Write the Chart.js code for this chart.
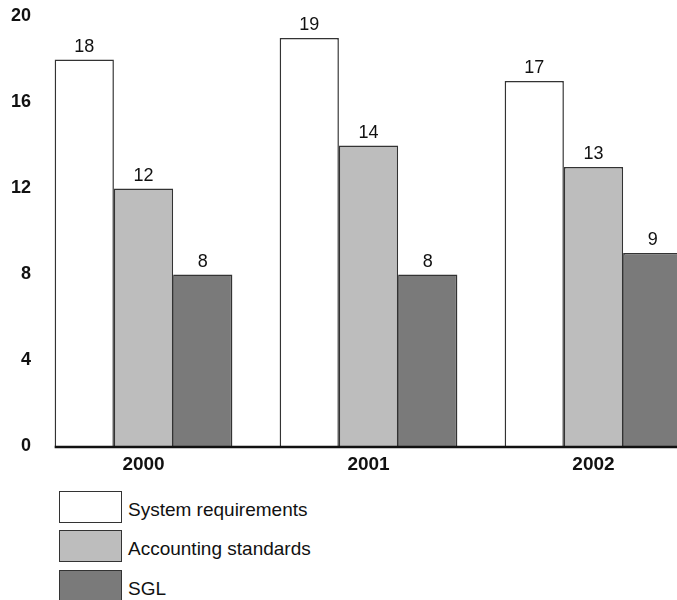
<!DOCTYPE html>
<html>
<head>
<meta charset="utf-8">
<script src="https://cdn.jsdelivr.net/npm/chart.js@4.4.1/dist/chart.umd.min.js"></script>
<style>
  html, body { margin: 0; padding: 0; background: #fff; overflow: hidden; }
  body { width: 677px; height: 600px; position: relative; font-family: "Liberation Sans", Arial, Helvetica, sans-serif; }
  #wrap { position: absolute; left: 0; top: 0; width: 706px; height: 480px; }
  #legend { position: absolute; left: 59px; top: 490px; }
  .legend-row { display: flex; align-items: center; height: 33px; margin-bottom: 6.5px; }
  .legend-box { width: 61px; height: 30px; border: 1.5px solid #333; box-sizing: content-box; }
  .legend-text { margin-left: 6px; font-size: 19px; color: #111; position: relative; top: 3px; }
</style>
</head>
<body>
<div id="wrap"><canvas id="chart" width="706" height="480"></canvas></div>
<div id="legend"></div>
<script>
const years = ['2000', '2001', '2002'];
const seriesNames = ['System requirements', 'Accounting standards', 'SGL'];
const systemRequirements = [18, 19, 17];
const accountingStandards = [12, 14, 13];
const sgl = [8, 8, 9];
const yTicks = [0, 4, 8, 12, 16, 20];

const fills = ['#ffffff', '#bdbdbd', '#7a7a7a'];
const font = '"Liberation Sans", Arial, Helvetica, sans-serif';

// value labels above each bar
const valueLabels = {
  id: 'valueLabels',
  afterDatasetsDraw(chart) {
    const ctx = chart.ctx;
    ctx.save();
    ctx.font = `18px ${font}`;
    ctx.fillStyle = '#111';
    ctx.textAlign = 'center';
    ctx.textBaseline = 'alphabetic';
    chart.data.datasets.forEach((ds, i) => {
      chart.getDatasetMeta(i).data.forEach((bar, j) => {
        ctx.fillText(String(ds.data[j]), bar.x, bar.y - 8);
      });
    });
    ctx.restore();
  },
};

// baseline starting at the first bar
const baseLine = {
  id: 'baseLine',
  afterDatasetsDraw(chart) {
    const first = chart.getDatasetMeta(0).data[0];
    const y = chart.scales.y.getPixelForValue(0);
    const ctx = chart.ctx;
    ctx.save();
    ctx.strokeStyle = '#111';
    ctx.lineWidth = 2.5;
    ctx.beginPath();
    ctx.moveTo(first.x - first.width / 2, y + 0.5);
    ctx.lineTo(chart.chartArea.right, y + 0.5);
    ctx.stroke();
    ctx.restore();
  },
};

const chart = new Chart(document.getElementById('chart'), {
  type: 'bar',
  data: {
    labels: years,
    datasets: [
      { label: seriesNames[0], data: systemRequirements },
      { label: seriesNames[1], data: accountingStandards },
      { label: seriesNames[2], data: sgl },
    ].map((d, i) => ({
      ...d,
      backgroundColor: fills[i],
      borderColor: '#333',
      borderWidth: 1.5,
      categoryPercentage: 0.79,
      barPercentage: 1.0,
    })),
  },
  options: {
    responsive: false,
    animation: false,
    devicePixelRatio: 1,
    layout: { padding: { top: 16.5, left: 11, right: 0, bottom: 0 } },
    plugins: {
      legend: { display: false },
      tooltip: { enabled: false },
    },
    scales: {
      x: {
        grid: { display: false, drawTicks: false },
        border: { display: false },
        ticks: {
          color: '#111',
          padding: 7,
          font: { family: font, size: 19, weight: 'bold' },
        },
        afterFit: (s) => { s.height = 33.5; },
      },
      y: {
        min: 0,
        max: 20,
        afterBuildTicks: (s) => { s.ticks = yTicks.map((v) => ({ value: v })); },
        grid: { display: false, drawTicks: false },
        border: { display: false },
        ticks: {
          color: '#111',
          padding: 0,
          font: { family: font, size: 18, weight: 'bold' },
        },
      },
    },
  },
  plugins: [valueLabels, baseLine],
});

const legend = document.getElementById('legend');
chart.data.datasets.forEach((ds) => {
  const row = document.createElement('div');
  row.className = 'legend-row';
  const box = document.createElement('div');
  box.className = 'legend-box';
  box.style.background = ds.backgroundColor;
  const txt = document.createElement('span');
  txt.className = 'legend-text';
  txt.textContent = ds.label;
  row.appendChild(box);
  row.appendChild(txt);
  legend.appendChild(row);
});
</script>
</body>
</html>
